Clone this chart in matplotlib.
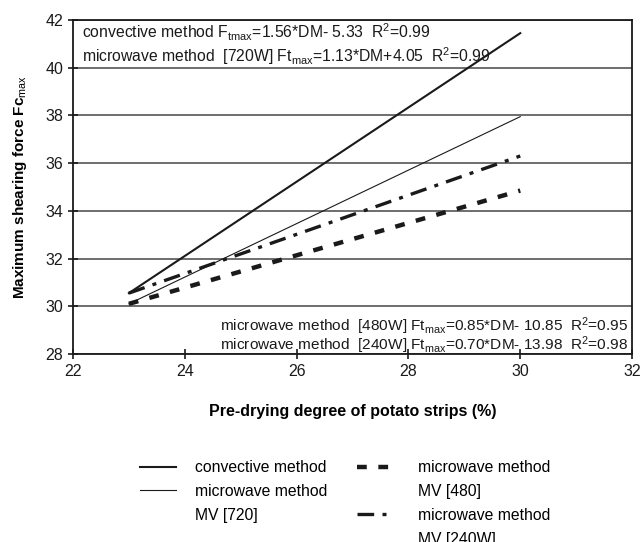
import matplotlib
matplotlib.use("Agg")
from matplotlib import pyplot as plt
from matplotlib.lines import Line2D

plt.rcParams['font.family'] = ['Liberation Sans', 'DejaVu Sans']
plt.rcParams['mathtext.fontset'] = 'custom'
plt.rcParams['mathtext.rm'] = 'Liberation Sans'
plt.rcParams['mathtext.it'] = 'Liberation Sans:italic'
plt.rcParams['mathtext.bf'] = 'Liberation Sans:bold'

# pre-drying degree (%) at the ends of each fitted line
dm = [23, 30]
convective = [30.55, 41.45]
mw_720 = [30.1, 37.95]
mw_480 = [30.1, 34.85]
mw_240 = [30.55, 36.3]

leg_left = ["convective method", "microwave method", "MV [720]"]
leg_right = ["microwave method", "MV [480]", "microwave method", "MV [240W]"]

eq_top = [r"convective method F$_{\rm tmax}$=1.56*DM- 5.33  R$^{2}$=0.99",
          r"microwave method  [720W] Ft$_{\rm max}$=1.13*DM+4.05  R$^{2}$=0.99"]
eq_bottom = [r"microwave method  [480W] Ft$_{\rm max}$=0.85*DM- 10.85  R$^{2}$=0.95",
             r"microwave method  [240W] Ft$_{\rm max}$=0.70*DM- 13.98  R$^{2}$=0.98"]

ink = '#1a1a1a'
fig = plt.figure(figsize=(6.43, 5.42), dpi=100)
ax = fig.add_axes([0.1135, 0.347, 0.8695, 0.616])

l1, = ax.plot(dm, convective, color=ink, lw=1.5, zorder=3)
l2, = ax.plot(dm, mw_720, color=ink, lw=0.8, zorder=3)
l3, = ax.plot(dm, mw_480, color=ink, lw=3.2, linestyle=(0, (2.2, 2.6)), zorder=3)
l4, = ax.plot(dm, mw_240, color=ink, lw=2.4, linestyle=(0, (5, 2.5, 1.2, 2.5)), zorder=3)

ax.set_xlim(22, 32)
ax.set_ylim(28, 42)
ax.set_xticks(range(22, 33, 2))
ax.set_yticks(range(28, 43, 2))
ax.yaxis.grid(True, color='#555555', lw=1.2)
ax.set_axisbelow(True)
ax.tick_params(direction='inout', length=7, width=1.2, labelsize=11.5, colors=ink)
for sp in ax.spines.values():
    sp.set_linewidth(1.3)
    sp.set_color(ink)

ax.set_xlabel("Pre-drying degree of potato strips (%)", fontsize=11.5, fontweight='bold', labelpad=18)
ax.set_ylabel(r"Maximum shearing force Fc$_{\rm max}$", fontsize=11, fontweight='bold', labelpad=12)

for i, s in enumerate(eq_top):
    ax.text(0.016, 0.963 - i * 0.07, s, transform=ax.transAxes, fontsize=11.3,
            ha='left', va='center', color=ink)
for i, s in enumerate(eq_bottom):
    ax.text(0.993, 0.083 - i * 0.056, s, transform=ax.transAxes, fontsize=11.1,
            ha='right', va='center', color=ink)

# legend: two columns, continuation lines get an empty handle
blank = Line2D([], [], linestyle='none')
leg_kw = dict(loc='upper left', frameon=False, fontsize=11.3, borderpad=0,
              borderaxespad=0, handlelength=2.3, labelspacing=0.56)
fig.legend([l1, l2, blank], leg_left, bbox_to_anchor=(0.218, 0.151),
           handletextpad=1.2, **leg_kw)
fig.legend([l3, blank, l4, blank], leg_right, bbox_to_anchor=(0.555, 0.151),
           handletextpad=1.57, **leg_kw)

fig.savefig("out.png", dpi=100)
